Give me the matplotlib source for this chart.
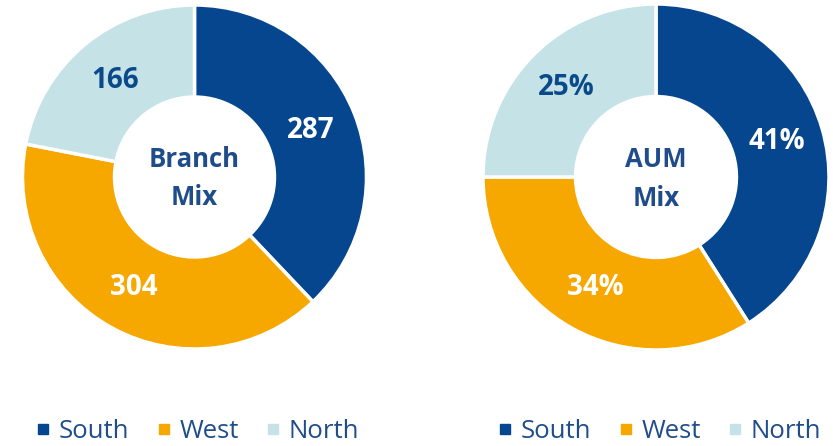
import numpy as np
import matplotlib
matplotlib.use("Agg")
import matplotlib.pyplot as plt
from matplotlib.lines import Line2D

plt.rcParams['font.family'] = ['Open Sans', 'DejaVu Sans']

regions = ['South', 'West', 'North']
branch_counts = [287, 304, 166]
aum_share = [41, 34, 25]

colors = ['#05468E', '#F6A800', '#C5E3E7']
label_colors = ['white', 'white', '#0B4A8A']
navy = '#1F4C8A'

fig = plt.figure(figsize=(8.33, 4.46), dpi=100)
fig.patch.set_facecolor('white')


def donut(rect, vals, fmt, title):
    ax = fig.add_axes(rect)
    total = sum(vals)
    wedges, texts, autotexts = ax.pie(
        vals, colors=colors, startangle=90, counterclock=False,
        radius=1.0, pctdistance=0.73,
        autopct=lambda p: fmt(p, total),
        wedgeprops=dict(width=0.535, edgecolor='white', linewidth=2.5))
    for t, c in zip(autotexts, label_colors):
        t.set_color(c)
        t.set_fontsize(20)
        t.set_fontweight('bold')
    ax.text(0, -0.01, title, ha='center', va='center', fontsize=18.5,
            fontweight='bold', color=navy, linespacing=1.55)
    ax.set_xlim(-1, 1)
    ax.set_ylim(-1, 1)
    ax.set_aspect('equal')
    ax.axis('off')
    return ax


# left: branch counts, right: AUM percentages
donut([22.5 / 833, 1 - 349 / 446, 344 / 833, 344 / 446], branch_counts,
      lambda p, tot: f"{p * tot / 100:.0f}", "Branch\nMix")
donut([483 / 833, 1 - 350 / 446, 346 / 833, 346 / 446], aum_share,
      lambda p, tot: f"{p:.0f}%", "AUM\nMix")

handles = [Line2D([], [], marker='s', linestyle='none', markersize=7.5,
                  markerfacecolor=c, markeredgecolor=c) for c in colors]

for xc in [198 / 833, 660 / 833]:
    leg = fig.legend(handles, regions, loc='center', ncol=3,
                     bbox_to_anchor=(xc, 1 - 431 / 446), frameon=False,
                     fontsize=18.5, handlelength=0.5, handletextpad=0.35,
                     columnspacing=1.1, borderpad=0)
    for t in leg.get_texts():
        t.set_color(navy)

fig.savefig('out.png', dpi=100, facecolor='white')
